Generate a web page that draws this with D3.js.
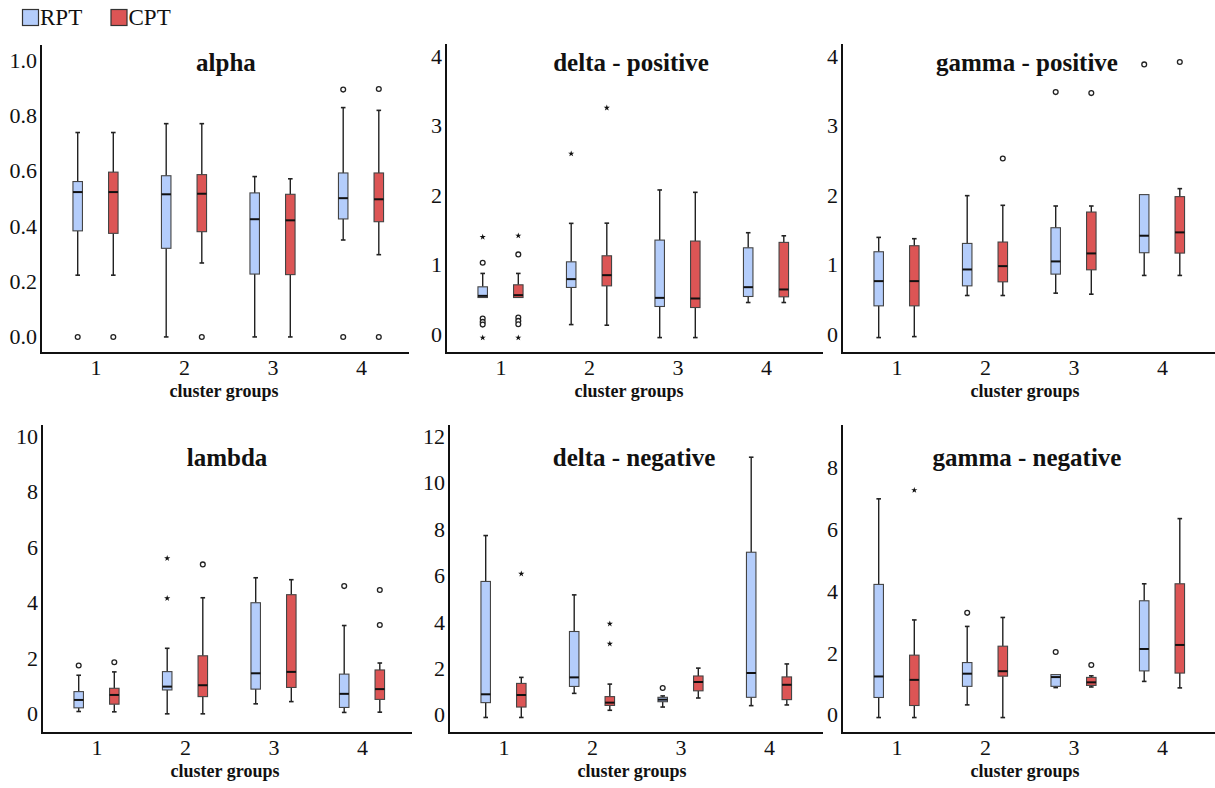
<!DOCTYPE html>
<html>
<head>
<meta charset="utf-8">
<script src="https://cdn.jsdelivr.net/npm/d3@7"></script>
<style>
  html, body { margin: 0; padding: 0; background: #fff; }
  svg { display: block; font-family: "Liberation Serif", "Times New Roman", serif; }
</style>
</head>
<body>
<svg id="chart" width="1215" height="788"></svg>
<script>
// ---------------- DATA ----------------
const groups = ["1", "2", "3", "4"];
const series = ["RPT", "CPT"];
const panelTitles = ["alpha", "delta - positive", "gamma - positive", "lambda", "delta - negative", "gamma - negative"];
const xAxisTitle = "cluster groups";

// box stats per group: [lowWhisker, q1, median, q3, highWhisker]
const alphaRPT = [[0.223,0.383,0.523,0.561,0.738],[0.0,0.320,0.515,0.582,0.770],[0.0,0.227,0.425,0.520,0.579],[0.350,0.426,0.501,0.592,0.828]];
const alphaCPT = [[0.223,0.374,0.523,0.595,0.738],[0.267,0.380,0.517,0.586,0.770],[0.0,0.225,0.421,0.515,0.571],[0.297,0.416,0.497,0.592,0.818]];
// outliers: [group, series, value, kind]  kind: "o" circle, "*" extreme
const alphaOut = [["1","RPT",0,"o"],["1","CPT",0,"o"],["2","CPT",0,"o"],["4","RPT",0.893,"o"],["4","RPT",0,"o"],["4","CPT",0.895,"o"],["4","CPT",0,"o"]];

const deltaPosRPT = [[0.529,0.529,0.553,0.683,0.876],[0.139,0.674,0.794,1.043,1.597],[-0.048,0.400,0.524,1.356,2.078],[0.457,0.544,0.678,1.245,1.462]];
const deltaPosCPT = [[0.529,0.529,0.563,0.712,0.876],[0.130,0.697,0.851,1.130,1.600],[-0.048,0.385,0.515,1.342,2.044],[0.457,0.539,0.645,1.323,1.418]];
const deltaPosOut = [["1","RPT",1.40,"*"],["1","RPT",1.03,"o"],["1","RPT",0.226,"o"],["1","RPT",0.178,"o"],["1","RPT",0.139,"o"],["1","RPT",-0.05,"*"],
                     ["1","CPT",1.42,"*"],["1","CPT",1.15,"o"],["1","CPT",0.241,"o"],["1","CPT",0.192,"o"],["1","CPT",0.144,"o"],["1","CPT",-0.05,"*"],
                     ["2","RPT",2.60,"*"],["2","CPT",3.26,"*"]];

const gammaPosRPT = [[-0.048,0.409,0.765,1.188,1.395],[0.558,0.697,0.933,1.308,1.996],[0.592,0.866,1.049,1.534,1.847],[0.847,1.174,1.419,2.011,2.011]];
const gammaPosCPT = [[-0.034,0.409,0.765,1.275,1.376],[0.558,0.755,0.981,1.328,1.857],[0.577,0.928,1.164,1.760,1.847],[0.847,1.169,1.467,1.982,2.097]];
const gammaPosOut = [["2","CPT",2.53,"o"],["3","RPT",3.487,"o"],["3","CPT",3.473,"o"],["4","RPT",3.886,"o"],["4","CPT",3.92,"o"]];

const lambdaRPT = [[0.084,0.216,0.50,0.80,1.39],[0.0,0.86,0.98,1.52,2.36],[0.36,0.89,1.46,4.00,4.90],[0.05,0.23,0.72,1.43,3.18]];
const lambdaCPT = [[0.072,0.348,0.68,0.92,1.51],[0.0,0.62,1.03,2.09,4.18],[0.44,0.95,1.51,4.29,4.83],[0.06,0.52,0.89,1.58,1.83]];
const lambdaOut = [["1","RPT",1.74,"o"],["1","CPT",1.86,"o"],["2","RPT",5.60,"*"],["2","RPT",4.16,"*"],["2","CPT",5.38,"o"],["4","RPT",4.60,"o"],["4","CPT",4.46,"o"],["4","CPT",3.20,"o"]];

const deltaNegRPT = [[-0.12,0.52,0.88,5.75,7.73],[0.92,1.22,1.61,3.59,5.17],[0.33,0.56,0.65,0.75,0.81],[0.39,0.75,1.80,7.01,11.11]];
const deltaNegCPT = [[-0.12,0.33,0.85,1.35,1.61],[0.19,0.40,0.52,0.78,1.32],[0.72,1.03,1.41,1.67,2.01],[0.42,0.65,1.29,1.63,2.19]];
const deltaNegOut = [["1","CPT",6.08,"*"],["2","CPT",3.92,"*"],["2","CPT",3.06,"*"],["3","RPT",1.15,"o"]];

const gammaNegRPT = [[-0.09,0.56,1.24,4.22,6.99],[0.32,0.92,1.33,1.69,2.86],[0.88,0.92,1.22,1.30,1.30],[1.08,1.42,2.13,3.69,4.24]];
const gammaNegCPT = [[-0.09,0.30,1.13,1.93,3.07],[-0.09,1.25,1.41,2.22,3.15],[0.90,0.95,1.05,1.21,1.26],[0.87,1.35,2.26,4.24,6.35]];
const gammaNegOut = [["1","CPT",7.27,"*"],["2","RPT",3.30,"o"],["3","RPT",2.03,"o"],["3","CPT",1.61,"o"]];

// y-axis tick labels per panel
const ticksAlpha = [0, 0.2, 0.4, 0.6, 0.8, 1.0];
const ticks0to4 = [0, 1, 2, 3, 4];
const ticksLambda = [0, 2, 4, 6, 8, 10];
const ticksDeltaNeg = [0, 2, 4, 6, 8, 10, 12];
const ticksGammaNeg = [0, 2, 4, 6, 8];

// ---------------- LAYOUT ----------------
const colors = { RPT: "#b4cdfb", CPT: "#dc5555" };
const panels = [
  { title: panelTitles[0], rpt: alphaRPT, cpt: alphaCPT, out: alphaOut, ticks: ticksAlpha, fmt: d3.format(".1f"), dom: [-0.058, 1.054], x0: 41, x1: 409, yTop: 45, yBot: 353, titleY: 71 },
  { title: panelTitles[1], rpt: deltaPosRPT, cpt: deltaPosCPT, out: deltaPosOut, ticks: ticks0to4, fmt: d3.format("d"), dom: [-0.27, 4.18], x0: 446, x1: 823, yTop: 44, yBot: 353, titleY: 71 },
  { title: panelTitles[2], rpt: gammaPosRPT, cpt: gammaPosCPT, out: gammaPosOut, ticks: ticks0to4, fmt: d3.format("d"), dom: [-0.27, 4.18], x0: 842, x1: 1215, yTop: 44, yBot: 353, titleY: 71 },
  { title: panelTitles[3], rpt: lambdaRPT, cpt: lambdaCPT, out: lambdaOut, ticks: ticksLambda, fmt: d3.format("d"), dom: [-0.69, 10.4], x0: 42, x1: 412, yTop: 425, yBot: 733, titleY: 466 },
  { title: panelTitles[4], rpt: deltaNegRPT, cpt: deltaNegCPT, out: deltaNegOut, ticks: ticksDeltaNeg, fmt: d3.format("d"), dom: [-0.79, 12.5], x0: 449, x1: 823, yTop: 425, yBot: 733, titleY: 466 },
  { title: panelTitles[5], rpt: gammaNegRPT, cpt: gammaNegCPT, out: gammaNegOut, ticks: ticksGammaNeg, fmt: d3.format("d"), dom: [-0.59, 9.38], x0: 842, x1: 1215, yTop: 425, yBot: 733, titleY: 466 }
];

const svg = d3.select("#chart");
const boxW = 9.5, capHalf = 2.3;
const sOff = d3.scalePoint().domain(series).range([-17.8, 17.8]);

// ---------------- LEGEND ----------------
const legendItems = [{ s: "RPT", x: 22, tx: 40 }, { s: "CPT", x: 110.5, tx: 128.5 }];
const lg = svg.append("g");
legendItems.forEach(it => {
  lg.append("rect").attr("x", it.x + 0.5).attr("y", 9.5).attr("width", 16).attr("height", 16)
    .attr("fill", colors[it.s]).attr("stroke", "#333").attr("stroke-width", 1.2);
  lg.append("text").attr("x", it.tx).attr("y", 25).attr("font-size", 23).attr("fill", "#111").text(it.s);
});

// ---------------- PANELS ----------------
panels.forEach(p => {
  const g = svg.append("g");
  const y = d3.scaleLinear().domain(p.dom).range([p.yBot, p.yTop]);
  const x = d3.scalePoint().domain(groups).range([p.x0 + 54.5, p.x0 + 54.5 + 3 * 88.5]);

  // y axis
  const ya = g.append("g").attr("transform", `translate(${p.x0},0)`)
    .call(d3.axisLeft(y).tickValues(p.ticks).tickFormat(p.fmt).tickSize(0).tickSizeOuter(0).tickPadding(4));
  ya.select(".domain").remove();
  ya.selectAll("text").attr("font-family", "Liberation Serif, serif").attr("font-size", 22).attr("fill", "#111");

  // x axis labels
  const xa = g.append("g").attr("transform", `translate(0,${p.yBot})`)
    .call(d3.axisBottom(x).tickSize(0).tickPadding(6));
  xa.select(".domain").remove();
  xa.selectAll("text").attr("font-family", "Liberation Serif, serif").attr("font-size", 22).attr("fill", "#111");

  // axis lines
  g.append("line").attr("x1", p.x0).attr("x2", p.x0).attr("y1", p.yTop).attr("y2", p.yBot + 1)
    .attr("stroke", "#111").attr("stroke-width", 2);
  g.append("line").attr("x1", p.x0 - 1).attr("x2", p.x1).attr("y1", p.yBot).attr("y2", p.yBot)
    .attr("stroke", "#111").attr("stroke-width", 2);

  // titles
  g.append("text").attr("x", p.x0 + 185).attr("y", p.titleY).attr("text-anchor", "middle")
    .attr("font-weight", "bold").attr("font-size", 25).attr("fill", "#111").text(p.title);
  g.append("text").attr("x", p.x0 + 183).attr("y", p.yBot + 44).attr("text-anchor", "middle")
    .attr("font-weight", "bold").attr("font-size", 18).attr("fill", "#111").text(xAxisTitle);

  // boxes
  const boxes = [];
  groups.forEach((grp, i) => {
    boxes.push({ grp, s: "RPT", v: p.rpt[i] });
    boxes.push({ grp, s: "CPT", v: p.cpt[i] });
  });
  boxes.forEach(b => {
    const cx = x(b.grp) + sOff(b.s);
    const [lo, q1, med, q3, hi] = b.v;
    const bg = g.append("g");
    // whiskers
    bg.append("line").attr("x1", cx).attr("x2", cx).attr("y1", y(hi)).attr("y2", y(q3))
      .attr("stroke", "#222").attr("stroke-width", 1.4);
    bg.append("line").attr("x1", cx).attr("x2", cx).attr("y1", y(q1)).attr("y2", y(lo))
      .attr("stroke", "#222").attr("stroke-width", 1.4);
    if (hi > q3) bg.append("line").attr("x1", cx - capHalf).attr("x2", cx + capHalf).attr("y1", y(hi)).attr("y2", y(hi))
      .attr("stroke", "#222").attr("stroke-width", 1.6);
    if (lo < q1) bg.append("line").attr("x1", cx - capHalf).attr("x2", cx + capHalf).attr("y1", y(lo)).attr("y2", y(lo))
      .attr("stroke", "#222").attr("stroke-width", 1.6);
    // box
    bg.append("rect").attr("x", cx - boxW / 2).attr("y", y(q3)).attr("width", boxW)
      .attr("height", Math.max(1, y(q1) - y(q3))).attr("fill", colors[b.s])
      .attr("stroke", "#444").attr("stroke-width", 1.1);
    // median
    bg.append("line").attr("x1", cx - boxW / 2).attr("x2", cx + boxW / 2).attr("y1", y(med)).attr("y2", y(med))
      .attr("stroke", "#111").attr("stroke-width", 2);
  });

  // outliers
  p.out.forEach(o => {
    const cx = x(o[0]) + sOff(o[1]);
    const cy = y(o[2]);
    if (o[3] === "o") {
      g.append("circle").attr("cx", cx).attr("cy", cy).attr("r", 2.4)
        .attr("fill", "#fff").attr("stroke", "#222").attr("stroke-width", 1.3);
    } else {
      g.append("path").attr("transform", `translate(${cx},${cy})`)
        .attr("d", d3.symbol().type(d3.symbolStar).size(12)())
        .attr("fill", "#111");
    }
  });
});
</script>
</body>
</html>
